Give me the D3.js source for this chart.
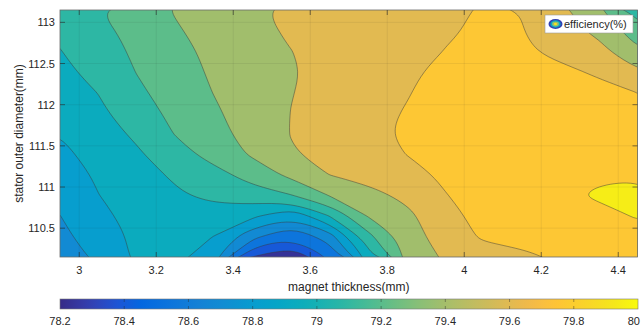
<!DOCTYPE html>
<html>
<head>
<meta charset="utf-8">
<script src="https://cdn.jsdelivr.net/npm/d3@7"></script>
<style>
  html, body { margin: 0; padding: 0; background: #fff; }
  svg { display: block; font-family: "Liberation Sans", Arial, Helvetica, sans-serif; }
</style>
</head>
<body>
<div id="chart"></div>
<script>
// grid samples: columns = magnet thickness, rows = stator outer diameter (top row first)
const thickness = [2.95, 3.05, 3.15, 3.25, 3.35, 3.45, 3.55, 3.65, 3.75, 3.85, 3.95, 4.05, 4.15, 4.25, 4.35, 4.45];
const diameter = [113.15, 112.9, 112.65, 112.4, 112.15, 111.9, 111.65, 111.4, 111.15, 110.9, 110.65, 110.4, 110.15];

const efficiency = [
  [79.16, 79.247, 79.33, 79.41, 79.47, 79.53, 79.58, 79.61, 79.63, 79.64, 79.655, 79.72, 79.695, 79.59, 79.42, 79.18],
  [79.13, 79.21, 79.30, 79.387, 79.45, 79.51, 79.57, 79.60, 79.63, 79.655, 79.685, 79.72, 79.705, 79.615, 79.51, 79.32],
  [79.095, 79.185, 79.275, 79.36, 79.434, 79.49, 79.548, 79.59, 79.62, 79.65, 79.703, 79.74, 79.72, 79.663, 79.60, 79.42],
  [79.06, 79.152, 79.255, 79.342, 79.42, 79.48, 79.54, 79.585, 79.62, 79.67, 79.74, 79.77, 79.76, 79.73, 79.68, 79.57],
  [79.025, 79.104, 79.223, 79.317, 79.404, 79.475, 79.546, 79.59, 79.635, 79.69, 79.76, 79.79, 79.79, 79.77, 79.74, 79.698],
  [78.99, 79.07, 79.18, 79.29, 79.38, 79.468, 79.552, 79.60, 79.65, 79.71, 79.77, 79.80, 79.81, 79.81, 79.80, 79.79],
  [78.955, 79.034, 79.127, 79.258, 79.354, 79.455, 79.555, 79.60, 79.66, 79.725, 79.77, 79.80, 79.815, 79.82, 79.83, 79.83],
  [78.92, 78.997, 79.08, 79.19, 79.307, 79.42, 79.538, 79.59, 79.645, 79.702, 79.755, 79.79, 79.81, 79.825, 79.835, 79.84],
  [78.88, 78.97, 79.045, 79.122, 79.20, 79.31, 79.438, 79.552, 79.61, 79.66, 79.72, 79.77, 79.80, 79.825, 79.84, 79.84],
  [78.845, 78.948, 79.013, 79.08, 79.136, 79.19, 79.244, 79.408, 79.497, 79.59, 79.695, 79.75, 79.79, 79.835, 79.86, 79.875],
  [78.798, 78.915, 79.00, 79.04, 79.04, 78.98, 78.83, 79.105, 79.41, 79.51, 79.66, 79.74, 79.78, 79.81, 79.83, 79.855],
  [78.76, 78.88, 78.98, 79.00, 78.948, 78.695, 78.52, 78.73, 79.205, 79.477, 79.625, 79.72, 79.74, 79.78, 79.81, 79.83],
  [78.72, 78.83, 78.98, 79.00, 78.855, 78.345, 78.22, 78.515, 79.02, 79.446, 79.57, 79.64, 79.675, 79.72, 79.76, 79.79]
];

// contour levels and the colorbar value each band is painted with
const levels = [78.35, 78.5, 78.65, 78.8, 78.95, 79.1, 79.25, 79.4, 79.55, 79.7, 79.85];
const bandTone = [78.236, 78.398, 78.542, 78.686, 78.812, 78.938, 79.082, 79.208, 79.388, 79.604, 79.766, 79.946];

const xTicks = [3, 3.2, 3.4, 3.6, 3.8, 4, 4.2, 4.4];
const yTicks = [110.5, 111, 111.5, 112, 112.5, 113];
const barTicks = [78.2, 78.4, 78.6, 78.8, 79, 79.2, 79.4, 79.6, 79.8, 80];

// parula colormap stops
const parula = [
  [0.2081, 0.1663, 0.5292], [0.2081, 0.2386, 0.6771], [0.1253, 0.3242, 0.8303],
  [0.0060, 0.4086, 0.8828], [0.0498, 0.4586, 0.8641], [0.0779, 0.5040, 0.8384],
  [0.0641, 0.5570, 0.8240], [0.0265, 0.6137, 0.8135], [0.0228, 0.6535, 0.7768],
  [0.0590, 0.6838, 0.7254], [0.1453, 0.7098, 0.6646], [0.2586, 0.7317, 0.5954],
  [0.3953, 0.7459, 0.5244], [0.5300, 0.7491, 0.4661], [0.6473, 0.7456, 0.4188],
  [0.7525, 0.7384, 0.3768], [0.8507, 0.7299, 0.3360], [0.9450, 0.7261, 0.2886],
  [0.9990, 0.7653, 0.2164], [0.9789, 0.8271, 0.1633], [0.9589, 0.8949, 0.1132],
  [0.9763, 0.9831, 0.0538]
].map(c => d3.rgb(c[0] * 255, c[1] * 255, c[2] * 255));

const W = 641, H = 326;
const margin = { top: 10, right: 3.5, bottom: 69, left: 60 };
const plotW = W - margin.left - margin.right;
const plotH = H - margin.top - margin.bottom;

const x = d3.scaleLinear().domain([2.95, 4.45]).range([margin.left, margin.left + plotW]);
const y = d3.scaleLinear().domain([110.15, 113.15]).range([margin.top + plotH, margin.top]);
const color = d3.scaleSequential(d3.piecewise(d3.interpolateRgb, parula)).domain([78.2, 80]);

const svg = d3.select("#chart").append("svg").attr("width", W).attr("height", H);

svg.append("defs").append("clipPath").attr("id", "plot-clip")
  .append("rect")
  .attr("x", margin.left).attr("y", margin.top)
  .attr("width", plotW).attr("height", plotH);

// contours
const nx = thickness.length, ny = diameter.length;
const gx = d3.scaleLinear().domain([0.5, nx - 0.5]).range([thickness[0], thickness[nx - 1]]);
const gy = d3.scaleLinear().domain([0.5, ny - 0.5]).range([diameter[0], diameter[ny - 1]]);

const bands = d3.contours().size([nx, ny]).thresholds(levels)(efficiency.flat());

const ring = d3.line()
  .x(p => x(gx(p[0])))
  .y(p => y(gy(p[1])))
  .curve(d3.curveBasisClosed);

const pathOf = geom => geom.coordinates
  .flatMap(poly => poly.map(r => ring(r.slice(0, -1))))
  .join("");

const plot = svg.append("g").attr("clip-path", "url(#plot-clip)");

plot.append("rect")
  .attr("x", margin.left).attr("y", margin.top)
  .attr("width", plotW).attr("height", plotH)
  .attr("fill", color(bandTone[0]));

plot.selectAll("path.band")
  .data(bands)
  .join("path")
  .attr("class", "band")
  .attr("d", pathOf)
  .attr("fill-rule", "evenodd")
  .attr("fill", (d, i) => color(bandTone[i + 1]));

plot.selectAll("path.iso")
  .data(bands)
  .join("path")
  .attr("class", "iso")
  .attr("d", pathOf)
  .attr("fill", "none")
  .attr("stroke", "#3a3a3a")
  .attr("stroke-opacity", 0.8)
  .attr("stroke-width", 0.6);

// grid
const grid = svg.append("g").attr("stroke", "#262626").attr("stroke-opacity", 0.13).attr("stroke-width", 0.6);
grid.selectAll("line.gx").data(xTicks).join("line")
  .attr("x1", d => x(d)).attr("x2", d => x(d))
  .attr("y1", margin.top).attr("y2", margin.top + plotH);
grid.selectAll("line.gy").data(yTicks).join("line")
  .attr("y1", d => y(d)).attr("y2", d => y(d))
  .attr("x1", margin.left).attr("x2", margin.left + plotW);

// frame and inward ticks
svg.append("rect")
  .attr("x", margin.left).attr("y", margin.top)
  .attr("width", plotW).attr("height", plotH)
  .attr("fill", "none").attr("stroke", "#6a6a6a").attr("stroke-width", 0.8);

const ticks = svg.append("g").attr("stroke", "#262626").attr("stroke-width", 0.6);
xTicks.forEach(t => {
  ticks.append("line").attr("x1", x(t)).attr("x2", x(t)).attr("y1", margin.top + plotH).attr("y2", margin.top + plotH - 5);
  ticks.append("line").attr("x1", x(t)).attr("x2", x(t)).attr("y1", margin.top).attr("y2", margin.top + 5);
});
yTicks.forEach(t => {
  ticks.append("line").attr("y1", y(t)).attr("y2", y(t)).attr("x1", margin.left).attr("x2", margin.left + 5);
  ticks.append("line").attr("y1", y(t)).attr("y2", y(t)).attr("x1", margin.left + plotW).attr("x2", margin.left + plotW - 5);
});

svg.append("g").selectAll("text").data(xTicks).join("text")
  .attr("x", d => x(d)).attr("y", 274)
  .attr("text-anchor", "middle")
  .attr("font-size", 11).attr("fill", "#262626")
  .text(d => d3.format("~g")(d));

svg.append("g").selectAll("text").data(yTicks).join("text")
  .attr("x", margin.left - 5).attr("y", d => y(d) + 4)
  .attr("text-anchor", "end")
  .attr("font-size", 11).attr("fill", "#262626")
  .text(d => d3.format("~g")(d));

svg.append("text")
  .attr("x", margin.left + plotW / 2).attr("y", 291)
  .attr("text-anchor", "middle").attr("font-size", 12).attr("fill", "#262626")
  .text("magnet thickness(mm)");

svg.append("text")
  .attr("transform", `translate(23,${margin.top + plotH / 2}) rotate(-90)`)
  .attr("text-anchor", "middle").attr("font-size", 12).attr("fill", "#262626")
  .text("stator outer diameter(mm)");

// legend
const lg = svg.append("g");
lg.append("rect").attr("x", 545).attr("y", 15).attr("width", 88).attr("height", 18)
  .attr("fill", "#fff").attr("stroke", "#9a9a9a").attr("stroke-width", 0.6);
[[7, 5, 78.3], [5.2, 3.7, 78.9], [3.4, 2.4, 79.35], [1.6, 1.2, 79.9]].forEach(e => {
  lg.append("ellipse").attr("cx", 555.5).attr("cy", 24)
    .attr("rx", e[0]).attr("ry", e[1]).attr("fill", color(e[2]));
});
lg.append("text").attr("x", 564).attr("y", 28).attr("font-size", 11).attr("fill", "#262626")
  .text("efficiency(%)");

// colorbar
const cb = d3.scaleLinear().domain([78.2, 80]).range([60, 638]);
const grad = svg.select("defs").append("linearGradient").attr("id", "cbar")
  .attr("x1", "0%").attr("x2", "100%").attr("y1", "0%").attr("y2", "0%");
d3.range(0, 1.0001, 0.02).forEach(t => {
  grad.append("stop").attr("offset", `${t * 100}%`).attr("stop-color", color(78.2 + t * 1.8));
});
svg.append("rect").attr("x", cb(78.2)).attr("y", 299)
  .attr("width", cb(80) - cb(78.2)).attr("height", 10)
  .attr("fill", "url(#cbar)").attr("stroke", "#7a7a7a").attr("stroke-width", 0.6);

const cbt = svg.append("g").attr("stroke", "#262626").attr("stroke-opacity", 0.7).attr("stroke-width", 0.6);
barTicks.slice(1, -1).forEach(t => {
  cbt.append("line").attr("x1", cb(t)).attr("x2", cb(t)).attr("y1", 299).attr("y2", 302);
  cbt.append("line").attr("x1", cb(t)).attr("x2", cb(t)).attr("y1", 306).attr("y2", 309);
});
svg.append("g").selectAll("text").data(barTicks).join("text")
  .attr("x", (d, i) => i === barTicks.length - 1 ? W - 1 : cb(d)).attr("y", 325)
  .attr("text-anchor", (d, i) => i === barTicks.length - 1 ? "end" : "middle")
  .attr("font-size", 11).attr("fill", "#262626")
  .text(d => d3.format("~g")(d));
</script>
</body>
</html>
